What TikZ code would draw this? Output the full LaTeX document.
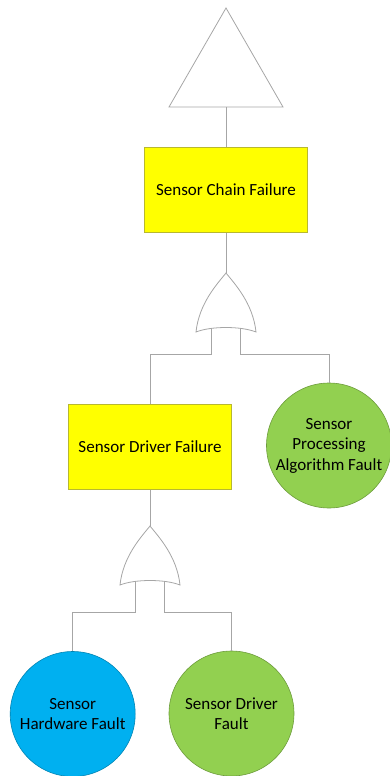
\documentclass[tikz,border=0pt]{standalone}
\usepackage{fontspec}
\setmainfont{Carlito}
\definecolor{linegray}{HTML}{A6A6A6}
\definecolor{boxyellow}{HTML}{FFFF00}
\definecolor{boxedge}{HTML}{B8B830}
\definecolor{leafgreen}{HTML}{92D050}
\definecolor{leafblue}{HTML}{00B0F0}
\begin{document}
\begin{tikzpicture}[x=1pt,y=-1pt,
  line/.style={draw=linegray,line width=.8pt},
  event/.style={rectangle,fill=boxyellow,draw=boxedge,line width=.8pt,minimum width=163pt,minimum height=85pt,align=center,font=\fontsize{17}{20.5}\selectfont},
  basic/.style={circle,draw=#1!75!black,fill=#1,line width=.6pt,minimum size=125pt,inner sep=0pt,align=center,font=\fontsize{17}{20.5}\selectfont},
  pics/orgate/.style={code={
    \draw[line,fill=white](-30,59)..controls(-27,30)and(-8,10)..(0,0)..controls(8,10)and(27,30)..(30,59)..controls(15,53)and(-15,53)..cycle;
    \coordinate(-out)at(0,0);\coordinate(-a)at(-14.5,55.5);\coordinate(-b)at(14.5,55.5);
  }}]
\useasboundingbox(0,0)rectangle(390,776);

% transfer triangle
\draw[line](226,8)--(283,107)--(169,107)--cycle;
\coordinate(xfer)at(226,107);

\node[event](chain)at(226,189.6){Sensor Chain Failure};
\pic(g1)at(226,273){orgate};
\node[event](driver)at(150,446.7){Sensor Driver Failure};
\node[basic=leafgreen](proc)at(329,445.5){Sensor\\Processing\\Algorithm Fault};
\pic(g2)at(150,526){orgate};
\node[basic=leafblue](hw)at(72.7,714){Sensor\\Hardware Fault};
\node[basic=leafgreen](drv)at(231.5,713.5){Sensor Driver\\Fault};

\draw[line](xfer)--(chain.north);
\draw[line](chain.south)--(g1-out);
\draw[line](g1-a)--++(0,26)-|(driver.north);
\draw[line](g1-b)--++(0,26)-|(proc.north);
\draw[line](driver.south)--(g2-out);
\draw[line](g2-a)--++(0,30.5)-|(hw.north);
\draw[line](g2-b)--++(0,30.5)-|(drv.north);
\end{tikzpicture}
\end{document}
